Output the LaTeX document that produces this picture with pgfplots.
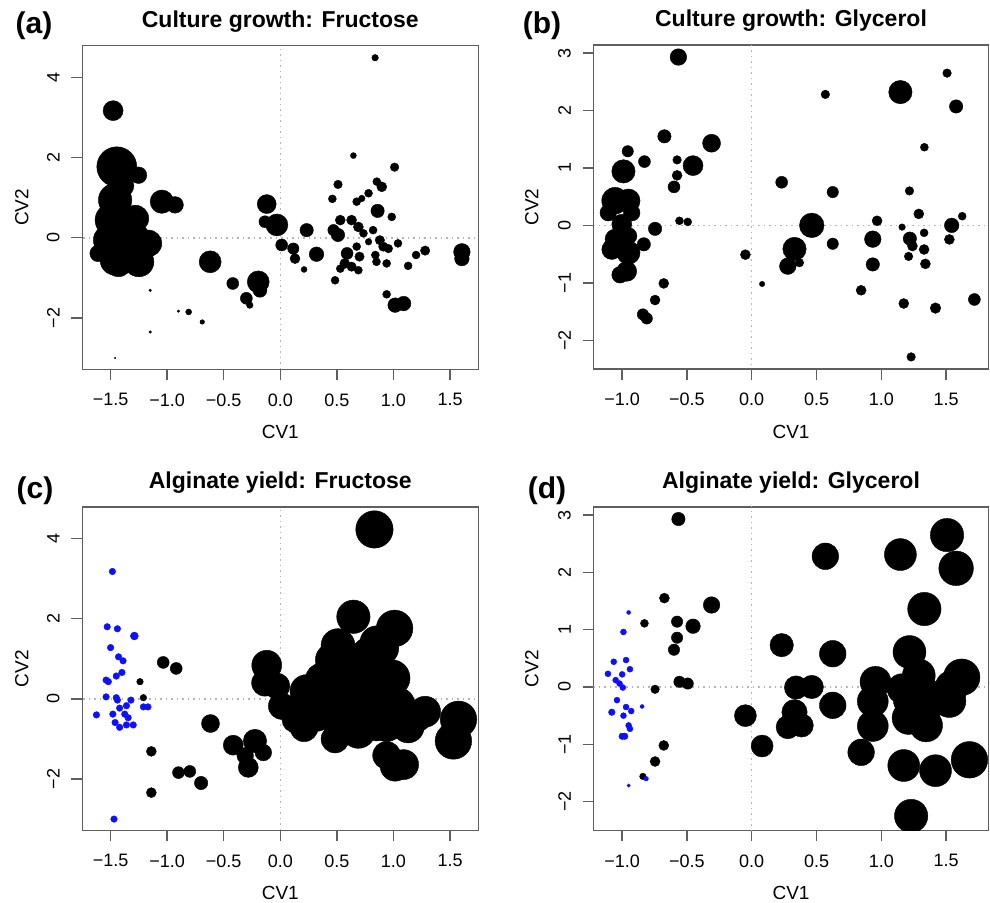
\documentclass[border=0pt]{standalone}
\usepackage{fontspec}
\setmainfont{Liberation Sans}
\usepackage{pgfplots}
\usepackage{pgfplotstable}
\pgfplotsset{compat=1.18}
\definecolor{boxc}{RGB}{95,95,95}
\definecolor{dotc}{RGB}{180,180,180}
\definecolor{rblue}{RGB}{15,15,255}

\pgfplotstableread{
x y r
-1.478 3.17 10
0.838 4.49 3.3
-1.445 1.77 20
-1.253 1.56 8.3
-1.40 1.30 12
-1.46 0.94 16.7
-1.49 0.44 16.7
-1.28 0.48 13.3
-1.52 -0.06 15
-1.31 -0.06 18.3
-1.165 -0.14 13.3
-1.61 -0.39 8.3
-1.46 -0.56 15
-1.25 -0.60 15
-1.43 -0.64 13.3
-1.047 0.90 11.7
-0.93 0.82 8.3
-0.62 -0.60 11
-0.42 -1.14 6
-0.30 -1.51 6
-0.27 -1.68 3.3
-0.195 -1.10 11
-0.18 -1.31 7
-1.15 -1.31 1.3
-1.15 -2.35 1.3
-0.90 -1.83 1.3
-0.81 -1.85 3
-0.69 -2.10 2.3
-1.46 -3.0 0.7
-0.12 0.84 9.5
-0.136 0.40 6
-0.03 0.32 11
0.012 -0.18 6
0.115 -0.27 5.7
0.13 -0.52 5
0.233 0.19 6.7
0.32 -0.41 7.3
0.21 -0.79 3
0.646 2.05 3
1.01 1.76 4.3
0.51 1.33 4.3
0.46 0.97 4
0.853 1.40 4
0.897 1.27 5
0.78 1.11 4
0.72 0.98 3.3
0.675 0.90 4
0.86 0.67 6.7
0.985 0.52 4
0.53 0.44 5
0.63 0.44 5
0.47 0.19 5.7
0.51 0.07 6.7
0.69 0.27 5
0.735 0.11 4
0.82 0.19 4
0.88 -0.06 4.7
0.78 -0.10 3.3
0.91 -0.22 4.7
0.84 -0.43 4
0.94 -0.64 4
0.85 -0.60 4
0.675 -0.22 4
0.70 -0.47 4.7
0.59 -0.39 6
0.57 -0.64 5
0.63 -0.72 4.7
0.69 -0.81 4
0.53 -0.77 4
0.484 -1.06 4
0.955 -0.27 4.3
1.04 -0.14 4
1.13 -0.70 4
1.20 -0.43 4
1.28 -0.32 4.7
0.94 -1.41 4
1.015 -1.68 7.3
1.09 -1.64 7.3
1.605 -0.35 8.3
1.605 -0.52 7.3
}\tabA

\pgfplotstableread{
x y r
-0.566 2.93 8.3
0.568 2.28 4.3
1.147 2.32 11.7
1.507 2.65 4.3
1.577 2.07 6.7
1.332 1.36 4
-0.674 1.55 6.7
-0.31 1.43 9
-0.957 1.29 5.7
-0.828 1.11 6
-0.576 1.14 4.3
-0.453 1.04 10
-0.99 0.94 11.7
-0.576 0.87 5
-0.60 0.67 6
-0.558 0.08 4
-0.494 0.06 4
0.231 0.75 6
0.625 0.58 5.7
1.217 0.60 4.3
1.289 0.20 5
1.624 0.16 4
0.967 0.08 5
0.463 0.0 12.3
0.33 -0.41 11.7
0.278 -0.71 8.3
0.368 -0.65 4.3
0.625 -0.32 5.7
0.934 -0.24 8.3
0.934 -0.68 6.7
1.16 -0.03 3.3
1.22 -0.23 6.7
1.24 -0.36 5
1.21 -0.54 4.3
1.33 -0.13 4
1.33 -0.42 5
1.34 -0.67 5
1.543 0.0 7.3
1.525 -0.245 5
-0.049 -0.51 5
0.08 -1.02 2.7
0.844 -1.13 5
1.173 -1.36 5
1.418 -1.44 5.3
1.718 -1.29 6
1.23 -2.29 4.3
-0.679 -1.01 5
-0.746 -1.30 5
-0.84 -1.55 5.7
-0.81 -1.62 5.7
-0.746 -0.06 6.7
-0.833 -0.33 6.7
-1.055 0.43 13.3
-0.952 0.43 11.7
-1.107 0.22 8.3
-0.926 0.22 8.3
-1.003 0.02 10
-1.055 -0.24 10
-0.95 -0.185 8.3
-1.08 -0.42 10
-0.952 -0.475 11.7
-0.965 -0.80 10
-1.016 -0.86 8.3
}\tabB

\pgfplotstableread{
x y r
-1.24 0.43 3.3
-1.21 0.03 3.3
-1.035 0.91 6
-0.92 0.76 6
-1.14 -1.31 5
-1.14 -2.34 5
-0.90 -1.84 6
-0.80 -1.81 6
-0.70 -2.10 6.7
-0.617 -0.615 9
-0.416 -1.155 10
-0.224 -1.05 11.7
-0.15 -1.34 8.3
-0.283 -1.71 10
-0.31 -1.42 8.3
-0.12 0.84 15
-0.136 0.40 13.3
-0.03 0.32 13
0.012 -0.18 13.3
0.115 -0.27 13
0.13 -0.52 13
0.233 0.19 16.7
0.35 0.53 14
0.32 -0.41 16
0.21 -0.72 14
0.832 4.23 18.7
0.646 2.05 16.7
1.01 1.76 18.3
0.51 1.33 17
0.46 0.97 17
0.853 1.40 17
0.897 1.27 17
0.78 1.11 17
0.72 0.98 17
0.675 0.90 17
0.86 0.67 18.3
0.985 0.52 18.3
0.53 0.44 18.3
0.63 0.44 18.3
0.47 0.19 17
0.51 0.07 18.3
0.69 0.27 18.3
0.735 0.11 18
0.82 0.19 18
0.88 -0.06 18
0.78 -0.10 18
0.91 -0.22 18
0.84 -0.43 18
0.94 -0.64 17
0.85 -0.60 18
0.675 -0.22 18
0.70 -0.47 18
0.59 -0.39 18
0.57 -0.64 17
0.63 -0.72 17
0.69 -0.81 17
0.53 -0.77 16
0.484 -1.00 14
0.955 -0.27 17
1.04 -0.14 17
1.13 -0.70 16
1.20 -0.43 16
1.28 -0.32 15.5
0.94 -1.41 14
1.015 -1.68 15
1.09 -1.64 15
1.575 -0.51 18.3
1.53 -1.05 18.3
}\tabCk

\pgfplotstableread{
x y r
-1.484 3.18 3.3
-1.53 1.80 3.3
-1.44 1.75 3.3
-1.29 1.57 4
-1.50 1.28 3.3
-1.43 1.05 3.3
-1.39 0.95 3.3
-1.40 0.66 3.3
-1.45 0.57 3.3
-1.54 0.47 3.3
-1.52 0.43 3.3
-1.54 0.05 3.3
-1.45 0.03 3.3
-1.44 -0.03 3.3
-1.32 -0.03 3.3
-1.36 -0.17 3.3
-1.42 -0.23 3.3
-1.21 -0.20 3.3
-1.17 -0.20 3.3
-1.625 -0.40 3.3
-1.48 -0.38 3.3
-1.375 -0.38 3.3
-1.46 -0.59 3.3
-1.42 -0.71 3.3
-1.36 -0.65 3.3
-1.30 -0.65 3.3
-1.345 -0.47 3.3
-1.47 -3.0 3.3
}\tabCb

\pgfplotstableread{
x y r
-0.566 2.93 6.7
-0.674 1.55 5
-0.31 1.43 8.3
-0.828 1.11 4
-0.576 1.14 5.7
-0.453 1.06 7.3
-0.576 0.86 5.7
-0.60 0.65 5.7
-0.558 0.09 5.7
-0.494 0.06 5.7
-0.746 -0.04 4.3
-0.679 -1.02 5
-0.746 -1.30 5
-0.84 -1.56 3.3
-0.049 -0.50 11
0.08 -1.03 11
0.231 0.73 11.7
0.568 2.28 13.3
0.625 0.58 13.3
0.625 -0.32 13.3
0.342 -0.01 11.7
0.463 0.0 11.7
0.33 -0.44 12.7
0.278 -0.70 11.7
0.385 -0.67 11.7
1.147 2.31 16
1.507 2.65 16.7
1.577 2.07 17.3
1.332 1.36 16.7
1.217 0.61 16.5
1.289 0.20 16.5
1.62 0.17 18.3
0.955 0.09 15.5
1.543 0.0 16.5
1.525 -0.245 16.5
0.934 -0.25 15.5
0.934 -0.68 15.5
0.844 -1.14 13.3
1.16 -0.03 15
1.22 -0.23 16.5
1.24 -0.36 16.5
1.21 -0.54 16.5
1.33 -0.10 16
1.33 -0.42 16.5
1.345 -0.67 16.5
1.173 -1.37 16
1.418 -1.46 16
1.68 -1.27 18.3
1.23 -2.25 16.7
}\tabDk

\pgfplotstableread{
x y r
-0.95 1.30 2
-0.99 0.96 3
-1.065 0.44 3
-0.97 0.47 3
-0.94 0.31 3
-1.11 0.23 3
-1.0 0.22 3
-1.05 0.12 3
-1.02 0.06 3
-0.995 -0.01 3
-1.04 -0.23 3
-1.08 -0.44 3.3
-0.97 -0.35 3
-0.93 -0.42 3
-0.99 -0.50 3
-0.95 -0.67 3
-0.94 -0.73 3
-1.0 -0.86 3.3
-0.98 -0.86 3.3
-0.846 -0.34 2
-0.815 -1.60 2.3
-0.95 -1.72 1.7
}\tabDb

\pgfplotsset{
  panel/.style={
    scale only axis,
    anchor=south west,
    axis line style={draw=boxc, line width=1.4pt},
    tick style={draw=boxc, line width=1.4pt},
    tick align=outside,
    major tick length=11pt,
    xtick pos=bottom, ytick pos=left,
    clip marker paths=true,
    ticklabel style={font=\fontsize{18}{20}\selectfont, inner sep=0pt, text=black},
    xticklabel style={anchor=north},
    yticklabel style={rotate=90, anchor=south},
    xticklabel shift=13pt,
    yticklabel shift=11.5pt,
    title style={font=\bfseries\fontsize{23}{27}\selectfont, at={(axis description cs:0.5,1)}, anchor=base, yshift=12.5pt, inner sep=0pt},
    label style={font=\fontsize{19}{22}\selectfont, inner sep=0pt},
    xlabel=CV1, ylabel=CV2,
    xlabel style={at={(axis description cs:0.5,0)}, anchor=center, yshift=-63pt},
  },
  pfr/.style={panel, width=396pt, xmin=-1.75, xmax=1.75, ymin=-3.28, ymax=4.79,
    xtick={-1.5,-1,-0.5,0,0.5,1,1.5},
    xticklabels={−1.5,−1.0,−0.5,0.0,0.5,1.0,1.5},
    ytick={-2,0,2,4}, yticklabels={−2,0,2,4},
    ylabel style={at={(axis description cs:-0.153,0.5)}, anchor=center}},
  pgl/.style={panel, width=395pt, xmin=-1.221, xmax=1.827, ymin=-2.50, ymax=3.14,
    xtick={-1,-0.5,0,0.5,1,1.5},
    xticklabels={−1.0,−0.5,0.0,0.5,1.0,1.5},
    ytick={-2,-1,0,1,2,3}, yticklabels={−2,−1,0,1,2,3},
    ylabel style={at={(axis description cs:-0.156,0.5)}, anchor=center}},
  bub/.style={scatter, only marks, mark=*, line width=0.4pt,
    scatter/use mapped color={draw=#1, fill=#1},
    visualization depends on={\thisrow{r} \as \rad},
    scatter/@pre marker code/.append style={/tikz/mark size=\rad}},
  zl/.style={dotc, line width=1.5pt, dash pattern=on 1.5pt off 4pt, forget plot},
}

\begin{document}
\begin{tikzpicture}
\path[use as bounding box] (0pt,0pt) rectangle (990pt,902pt);

% (a)
\begin{axis}[pfr, at={(82.3pt,532.7pt)}, height=323.6pt, title={Culture growth: Fructose}]
\addplot[zl] coordinates {(0,-10) (0,10)};
\addplot[zl] coordinates {(-5,0) (5,0)};
\addplot[bub=black] table[x=x,y=y] {\tabA};
\end{axis}

% (b)
\begin{axis}[pgl, at={(593.5pt,533pt)}, height=324pt, title={Culture growth: Glycerol}]
\addplot[zl] coordinates {(0,-10) (0,10)};
\addplot[zl] coordinates {(-5,0) (5,0)};
\addplot[bub=black] table[x=x,y=y] {\tabB};
\end{axis}

% (c)
\begin{axis}[pfr, at={(82.3pt,71.7pt)}, height=323.3pt, title={Alginate yield: Fructose}]
\addplot[zl] coordinates {(0,-10) (0,10)};
\addplot[zl] coordinates {(-5,0) (5,0)};
\addplot[bub=black] table[x=x,y=y] {\tabCk};
\addplot[bub=rblue] table[x=x,y=y] {\tabCb};
\end{axis}

% (d)
\begin{axis}[pgl, at={(593.5pt,71.7pt)}, height=323.3pt, title={Alginate yield: Glycerol}]
\addplot[zl] coordinates {(0,-10) (0,10)};
\addplot[zl] coordinates {(-5,0) (5,0)};
\addplot[bub=black] table[x=x,y=y] {\tabDk};
\addplot[bub=rblue] table[x=x,y=y] {\tabDb};
\end{axis}

\node[font=\bfseries\fontsize{30}{34}\selectfont, inner sep=0pt] at (34pt,876pt) {(a)};
\node[font=\bfseries\fontsize{30}{34}\selectfont, inner sep=0pt] at (542pt,876pt) {(b)};
\node[font=\bfseries\fontsize{30}{34}\selectfont, inner sep=0pt] at (35pt,411pt) {(c)};
\node[font=\bfseries\fontsize{30}{34}\selectfont, inner sep=0pt] at (547pt,411pt) {(d)};
\end{tikzpicture}
\end{document}
